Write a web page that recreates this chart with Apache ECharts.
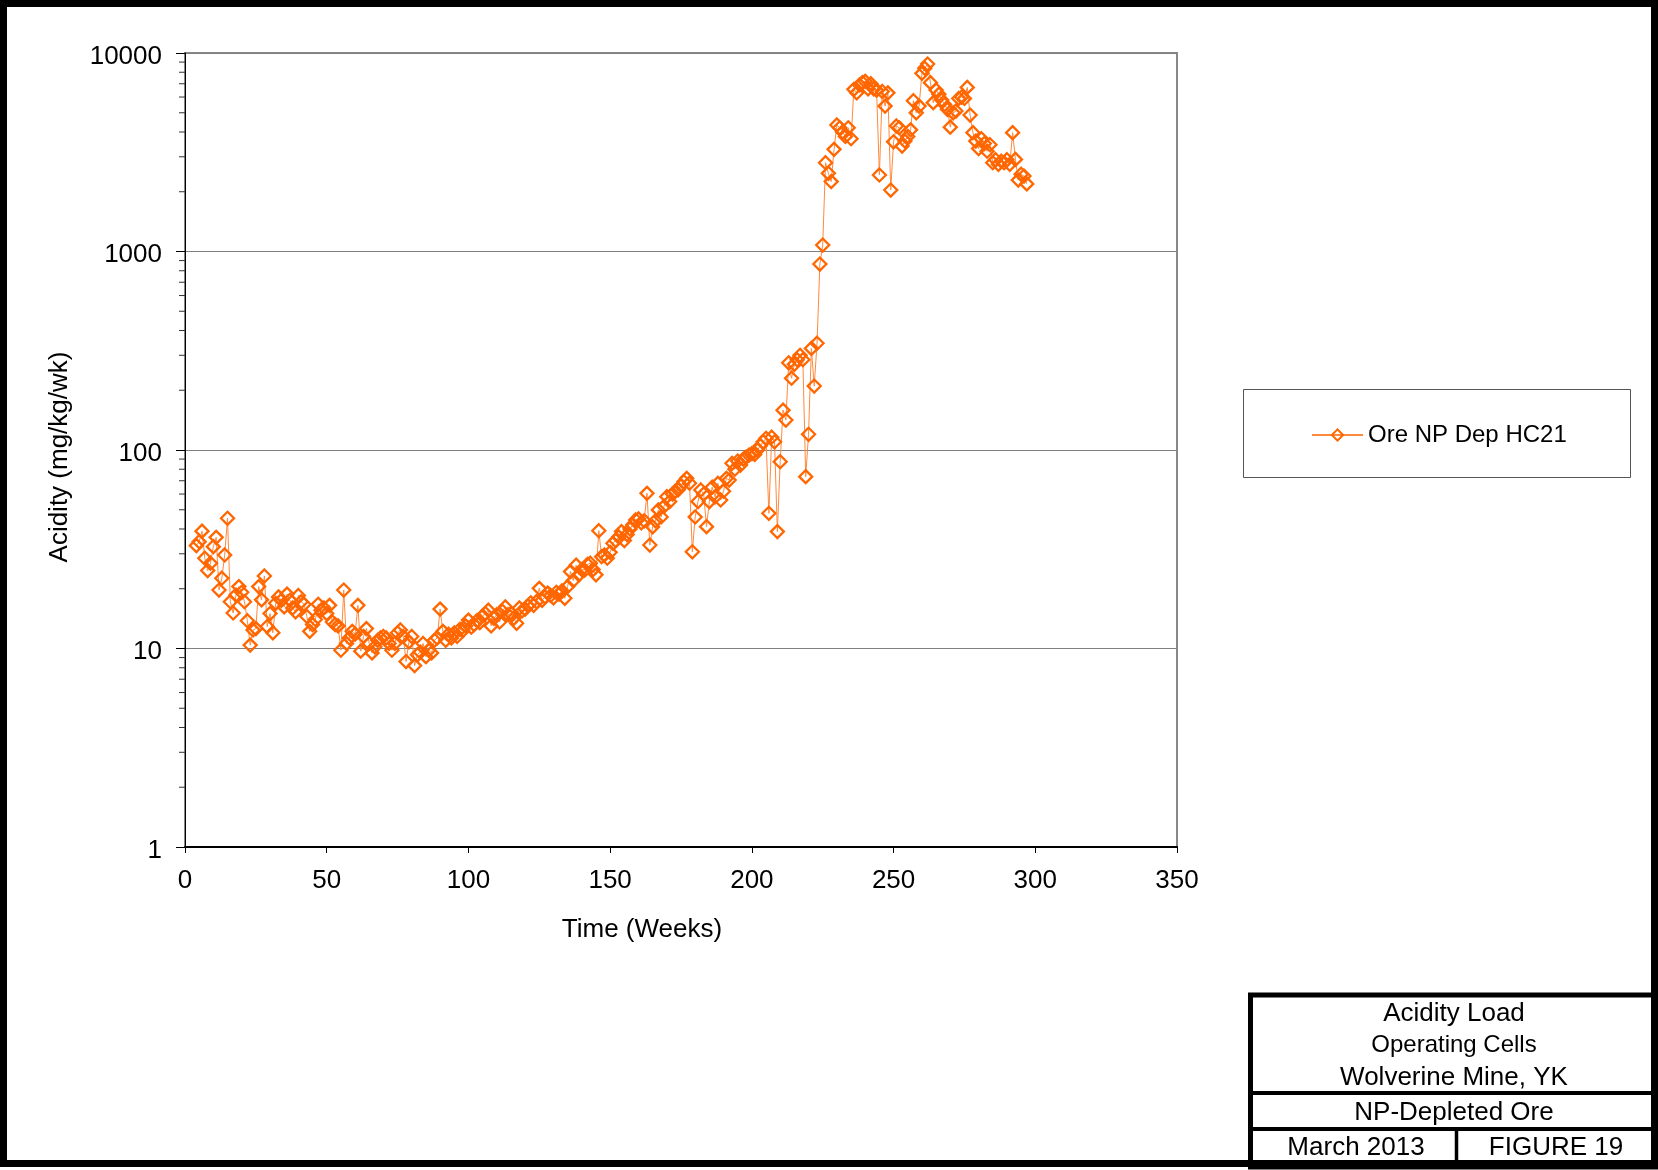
<!DOCTYPE html>
<html>
<head>
<meta charset="utf-8">
<script src="https://cdn.jsdelivr.net/npm/echarts@6/dist/echarts.min.js"></script>
<style>
html,body{margin:0;padding:0;background:#fff;}
#chart{width:1658px;height:1170px;}
</style>
</head>
<body>
<div id="chart"></div>
<script>
// ---- data ----
const firstWeek = 4;
const acidity = [
  33, 34.5, 39, 28.5, 24.7, 26.9, 32.6, 36.3, 19.7, 22.6,
  29.6, 45.3, 17.2, 15.1, 18.6, 20.5, 19.2, 17.2, 13.8, 10.4,
  12.4, 12.6, 20.5, 17.6, 23.2, 12.9, 15.0, 12.0, 16.9, 18.2,
  17.5, 16.2, 18.8, 17.5, 16.0, 15.3, 18.5, 17.2, 16.7, 14.5,
  12.2, 13.2, 14.0, 16.7, 15.6, 16.0, 15.0, 16.5, 13.6, 13.2,
  13.0, 9.8, 19.7, 10.6, 11.3, 12.2, 11.8, 16.5, 9.7, 11.5,
  12.6, 10.6, 9.5, 10.2, 11.0, 11.3, 11.5, 11.3, 10.6, 9.8,
  10.6, 12.0, 12.4, 11.5, 8.6, 10.8, 11.5, 8.2, 9.3, 9.6,
  10.6, 9.1, 9.8, 9.5, 11.0, 11.3, 15.8, 12.2, 11.0, 11.8,
  11.3, 12.0, 11.5, 12.5, 12.3, 13.0, 13.9, 12.8, 13.2, 13.8,
  13.5, 14.6, 15.0, 15.6, 13.0, 14.2, 14.8, 13.6, 15.4, 16.2,
  14.8, 15.0, 14.2, 13.4, 16.0, 15.5, 15.8, 16.4, 17.0, 16.5,
  17.2, 20.1, 17.5, 18.2, 19.0, 18.5, 18.0, 19.2, 18.8, 19.5,
  17.9, 20.5, 24.4, 22.0, 26.3, 23.5, 25.0, 24.8, 26.5, 26.9,
  25.0, 23.5, 39.2, 29.0, 29.6, 28.5, 30.5, 33.9, 35.0, 36.5,
  38.8, 35.0, 37.5, 40.0, 42.0, 44.4, 45.0, 43.0, 44.0, 60.5,
  33.2, 41.0, 44.0, 49.9, 46.0, 52.0, 58.2, 55.0, 60.0, 62.0,
  63.0, 66.0, 69.2, 72.0, 68.0, 30.7, 46.0, 55.0, 62.9, 60.0,
  41.1, 55.0, 65.0, 58.0, 67.9, 56.0, 62.0, 72.0, 70.6, 85.7,
  80.0, 88.0, 84.0, 90.0, 92.0, 94.3, 96.0, 95.0, 100.0, 105.0,
  110.0, 114.6, 48.0, 116.0, 110.0, 38.8, 87.3, 158.8, 141.6, 275.0,
  230.0, 270.0, 285.0, 300.0, 285.0, 73.4, 120.0, 325.0, 210.0, 345.0,
  865, 1078, 2800, 2477, 2250, 3270, 4340, 4200, 4000, 3800,
  4200, 3700, 6560, 6300, 6900, 7100, 7200, 6600, 7000, 6600,
  6500, 2430, 6400, 5400, 6300, 2040, 3570, 4290, 4200, 3400,
  3600, 3800, 4100, 5750, 5000, 5400, 7900, 8380, 8800, 7090,
  5620, 6510, 6200, 5800, 5500, 5200, 4230, 5000, 5100, 5900,
  6000, 5900, 6710, 4870, 3970, 3600, 3300, 3700, 3500, 3200,
  3450, 2800, 2900, 2750, 2850, 2800, 2900, 2750, 3970, 2910,
  2290, 2450, 2400, 2190
];
const seriesName = 'Ore NP Dep HC21';
const yMinorTicks = [2,3,4,5,6,7,8,9,20,30,40,50,60,70,80,90,200,300,400,500,600,700,800,900,2000,3000,4000,5000,6000,7000,8000,9000];
const xTitle = 'Time (Weeks)';
const yTitle = 'Acidity (mg/kg/wk)';
const titleBlock = ['Acidity Load', 'Operating Cells', 'Wolverine Mine, YK', 'NP-Depleted Ore', 'March 2013', 'FIGURE 19'];

const FONT = '"Liberation Sans", Arial, Helvetica, sans-serif';
const points = acidity.map((v, i) => [firstWeek + i, v]);

const chart = echarts.init(document.getElementById('chart'), null, {renderer: 'canvas'});
const option = {
  backgroundColor: '#fff',
  animation: false,
  grid: {left: 185, top: 53, width: 992, height: 794, show: true, borderColor: '#888', borderWidth: 2, backgroundColor: '#fff'},
  xAxis: {
    type: 'value', min: 0, max: 350, interval: 50,
    axisLine: {show: true, onZero: false, lineStyle: {color: '#000', width: 2}},
    axisTick: {show: true, inside: false, length: 6, lineStyle: {color: '#000', width: 1}},
    axisLabel: {fontSize: 26, color: '#000', fontFamily: FONT, margin: 21},
    splitLine: {show: false}
  },
  yAxis: {
    type: 'log', logBase: 10, min: 1, max: 10000,
    axisLine: {show: true, lineStyle: {color: '#000', width: 1}},
    axisTick: {show: true, inside: false, length: 9, lineStyle: {color: '#000', width: 1}},
    axisLabel: {color: '#000', margin: 23,
      formatter: function (v) { return '{t|' + String(Math.round(v)) + '}'; },
      rich: {t: {fontSize: 26, color: '#000', fontFamily: FONT, padding: [7, 0, 0, 0]}}},
    splitLine: {show: true, lineStyle: {color: '#808080', width: 1}}
  },
  legend: {
    data: [seriesName], left: 1311, top: 423, itemWidth: 51, itemHeight: 14, itemGap: 0,
    textStyle: {fontSize: 24, color: '#000', fontFamily: FONT}, padding: 0
  },
  series: [
    {
      name: seriesName, type: 'line', data: points,
      symbol: 'diamond', symbolSize: 13, showAllSymbol: true,
      lineStyle: {color: '#FF8a3d', width: 1},
      itemStyle: {color: 'rgba(255,255,255,0)', borderColor: '#FF6600', borderWidth: 2.3},
      z: 3
    },
    {
      name: 'minor', type: 'custom', clip: false, silent: true, z: 4,
      data: yMinorTicks.map(v => [0, v]),
      renderItem: function (params, api) {
        const p = api.coord([0, api.value(1)]);
        return {type: 'line', shape: {x1: p[0] - 6, y1: p[1], x2: p[0], y2: p[1]}, style: {stroke: '#333', lineWidth: 1}};
      }
    }
  ],
  graphic: [
    {type: 'rect', shape: {x: 3.5, y: 3.5, width: 1651, height: 1160}, style: {fill: 'none', stroke: '#000', lineWidth: 7}, z: 10},
    {type: 'text', x: 642, y: 930, style: {text: xTitle, font: '26px ' + FONT, fill: '#000', textAlign: 'center', textVerticalAlign: 'middle'}},
    {type: 'text', x: 60, y: 457, rotation: Math.PI / 2, style: {text: yTitle, font: '26px ' + FONT, fill: '#000', textAlign: 'center', textVerticalAlign: 'middle'}},
    {type: 'rect', shape: {x: 1243.5, y: 389.5, width: 387, height: 88}, style: {fill: 'none', stroke: '#555', lineWidth: 1}},
    // title block
    {type: 'rect', shape: {x: 1250.5, y: 995, width: 410, height: 172}, style: {fill: '#fff', stroke: '#000', lineWidth: 5}, z: 9},
    {type: 'line', shape: {x1: 1250, y1: 1093, x2: 1658, y2: 1093}, style: {stroke: '#000', lineWidth: 4}, z: 9},
    {type: 'line', shape: {x1: 1250, y1: 1129, x2: 1658, y2: 1129}, style: {stroke: '#000', lineWidth: 4}, z: 9},
    {type: 'line', shape: {x1: 1456.5, y1: 1129, x2: 1456.5, y2: 1166}, style: {stroke: '#000', lineWidth: 3.5}, z: 9},
    {type: 'text', x: 1454, y: 1014, z: 11, style: {text: titleBlock[0], font: '26px ' + FONT, fill: '#000', textAlign: 'center', textVerticalAlign: 'middle'}},
    {type: 'text', x: 1454, y: 1045, z: 11, style: {text: titleBlock[1], font: '24px ' + FONT, fill: '#000', textAlign: 'center', textVerticalAlign: 'middle'}},
    {type: 'text', x: 1454, y: 1078, z: 11, style: {text: titleBlock[2], font: '26px ' + FONT, fill: '#000', textAlign: 'center', textVerticalAlign: 'middle'}},
    {type: 'text', x: 1454, y: 1113, z: 11, style: {text: titleBlock[3], font: '26px ' + FONT, fill: '#000', textAlign: 'center', textVerticalAlign: 'middle'}},
    {type: 'text', x: 1356, y: 1148, z: 11, style: {text: titleBlock[4], font: '26px ' + FONT, fill: '#000', textAlign: 'center', textVerticalAlign: 'middle'}},
    {type: 'text', x: 1556, y: 1148, z: 11, style: {text: titleBlock[5], font: '26px ' + FONT, fill: '#000', textAlign: 'center', textVerticalAlign: 'middle'}}
  ]
};
chart.setOption(option);
</script>
</body>
</html>
